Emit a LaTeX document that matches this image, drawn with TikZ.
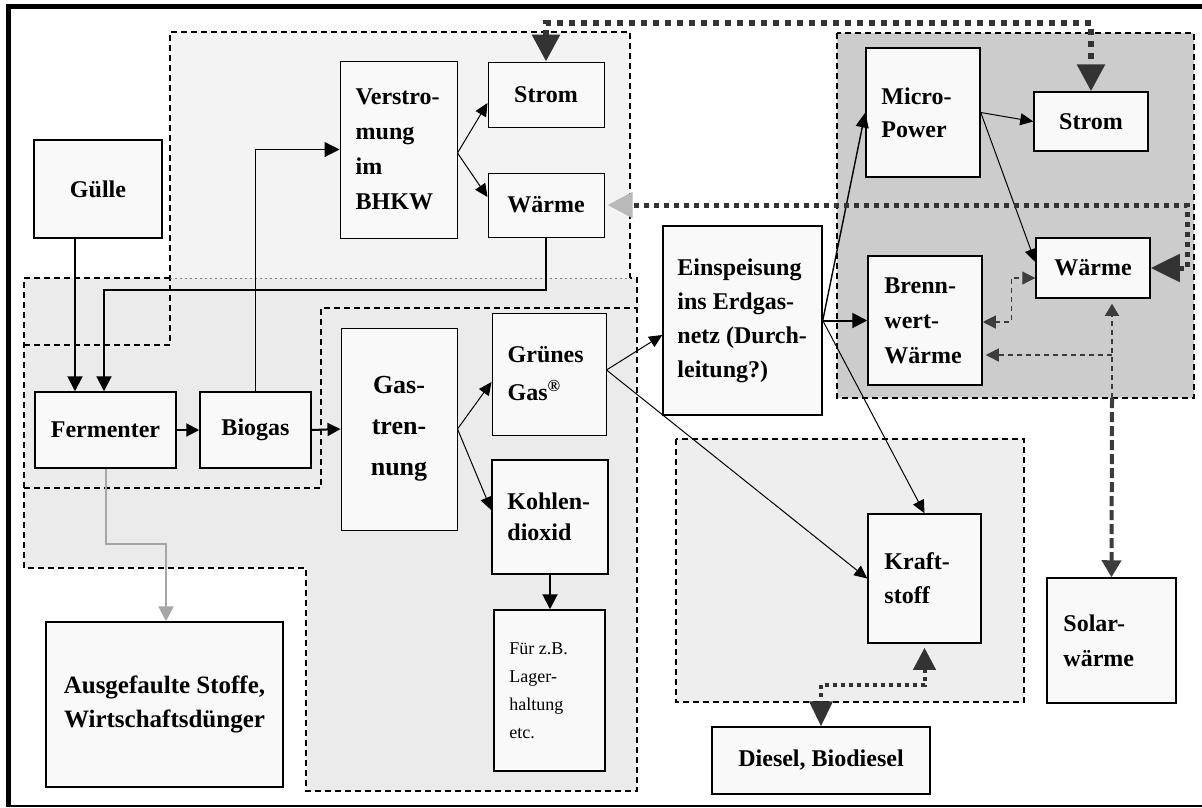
\documentclass[tikz,border=0pt]{standalone}
\usepackage{fontspec}
\setmainfont{Liberation Serif}
\usetikzlibrary{arrows.meta,calc}
\definecolor{boxfill}{HTML}{F9F9F9}
\definecolor{regA}{HTML}{F3F3F3}
\definecolor{regB}{HTML}{EBEBEB}
\definecolor{regE}{HTML}{CCCCCC}
\definecolor{regF}{HTML}{EEEEEE}
\definecolor{dk}{HTML}{333333}
\definecolor{dktwo}{HTML}{3C3C3C}
\begin{document}
\begin{tikzpicture}[x=1pt,y=-1pt,
  box/.style={draw=black,line width=1.5pt,fill=boxfill,inner sep=0pt,align=center,font=\fontsize{24}{34}\selectfont\bfseries},
  thinbox/.style={box,line width=1pt},
  txt/.style={inner sep=0pt,align=left,anchor=west,font=\fontsize{24}{34}\selectfont\bfseries},
  region/.style={draw=black,line width=1.4pt,dash pattern=on 6pt off 4pt},
  blk/.style={line width=2pt,-{Triangle[length=15pt,width=15pt]}},
  thn/.style={line width=1pt,-{Triangle[length=13pt,width=12pt]}},
  bigdot/.style={draw=dk,line width=6pt,dash pattern=on 6pt off 6pt},
  meddot/.style={draw=dk,line width=4pt,dash pattern=on 4pt off 4pt},
  graydash/.style={draw=dktwo,line width=1.2pt,dash pattern=on 5pt off 4pt},
]
\useasboundingbox (0,0) rectangle (1202,807);
% regions
\fill[regA] (170,32) rectangle (630,278);
\fill[regB] (24,278) -- (637,278) -- (637,791) -- (306,791) -- (306,568) -- (24,568) -- cycle;
\fill[regE] (837,33) rectangle (1194,398);
\fill[regF] (676,439) rectangle (1024,702);
\draw[region] (24,345) -- (170,345) -- (170,32) -- (630,32) -- (630,278);
\draw[region] (170,278) -- (24,278) -- (24,568) -- (306,568) -- (306,791) -- (637,791) -- (637,278) -- (630,278);
\draw[gray,line width=0.8pt,dash pattern=on 2pt off 3pt] (170,278) -- (630,278);
\draw[region] (24,488) -- (321,488) -- (321,308) -- (637,308);
\draw[region] (837,33) rectangle (1194,398);
\draw[region] (676,439) rectangle (1024,702);
% frame
\draw[line width=5pt] (8,807) -- (8,6.5) -- (1202,6.5);
\draw[line width=2pt] (8,805.5) -- (1202,805.5);
% boxes
\node[box,minimum width=128pt,minimum height=98pt] (guelle) at (98,189) {Gülle};
\node[thinbox,minimum width=117pt,minimum height=177pt] (verstr) at (398.5,149.5) {};
\node[thinbox,minimum width=116pt,minimum height=65pt] (strom1) at (546,94.5) {Strom};
\node[thinbox,minimum width=116pt,minimum height=64pt] (waerme1) at (546,205) {Wärme};
\node[box,minimum width=141pt,minimum height=76pt] (ferm) at (105.5,430) {Fermenter};
\node[box,minimum width=111pt,minimum height=76pt] (biogas) at (255.5,430) {Biogas};
\node[thinbox,minimum width=116pt,minimum height=202pt,font=\fontsize{26}{41}\selectfont\bfseries] (gast) at (399,429) {Gas-\\tren-\\nung};
\node[thinbox,minimum width=114pt,minimum height=122pt] (gruen) at (549,374) {};
\node[box,minimum width=116pt,minimum height=114pt] (kohlen) at (550,517) {};
\node[box,minimum width=111pt,minimum height=161pt] (fuer) at (549.5,690.5) {};
\node[box,minimum width=237pt,minimum height=165pt,font=\fontsize{25}{34}\selectfont\bfseries] (ausg) at (164.5,704.5) {Ausgefaulte Stoffe,\\Wirtschaftsdünger};
\node[box,minimum width=159pt,minimum height=189pt] (einsp) at (742.5,320.5) {};
\node[box,minimum width=114pt,minimum height=129pt] (micro) at (923,112.5) {};
\node[box,minimum width=114pt,minimum height=59pt] (strom2) at (1091,121.5) {Strom};
\node[box,minimum width=114pt,minimum height=60pt] (waerme2) at (1093,268) {Wärme};
\node[box,minimum width=114pt,minimum height=129pt] (brenn) at (925,320.5) {};
\node[box,minimum width=113pt,minimum height=129pt] (kraft) at (924.5,578.5) {};
\node[box,minimum width=218pt,minimum height=67pt] (diesel) at (821,760.5) {Diesel, Biodiesel};
\node[box,minimum width=129pt,minimum height=125pt] (solar) at (1111.5,640.5) {};
% left-aligned texts
\node[txt,font=\fontsize{24}{35}\selectfont\bfseries] (verstrT) at ([xshift=16pt]verstr.west) {Verstro-\\mung\\im\\BHKW};
\node[txt,font=\fontsize{24}{38}\selectfont\bfseries] (gruenT) at ([xshift=16pt]gruen.west) {Grünes\\Gas\textsuperscript{®}};
\node[txt,font=\fontsize{24}{31}\selectfont\bfseries] (kohlenT) at ([xshift=16pt]kohlen.west) {Kohlen-\\dioxid};
\node[txt,font=\fontsize{18}{28}\selectfont] (fuerT) at ([xshift=16pt]fuer.west) {Für z.B.\\Lager-\\haltung\\etc.};
\node[txt] (einspT) at ([xshift=15pt]einsp.west) {Einspeisung\\ins Erdgas-\\netz (Durch-\\leitung?)};
\node[txt,font=\fontsize{24}{33}\selectfont\bfseries] (microT) at ([xshift=16pt]micro.west) {Micro-\\Power};
\node[txt,font=\fontsize{24}{35}\selectfont\bfseries] (brennT) at ([xshift=17pt]brenn.west) {Brenn-\\wert-\\Wärme};
\node[txt] (kraftT) at ([xshift=17pt]kraft.west) {Kraft-\\stoff};
\node[txt,font=\fontsize{24}{35}\selectfont\bfseries] (solarT) at ([xshift=17pt]solar.west) {Solar-\\wärme};
% black connectors
\coordinate (jw) at (104,290);
\draw[blk] ([xshift=-23pt]guelle.south) -- ([xshift=-23pt]guelle.south |- ferm.north);
\draw[blk] (waerme1.south) |- (jw) -- (jw |- ferm.north);
\draw[line width=1pt,-{Triangle[length=15pt,width=15pt]}] (biogas.north) |- (verstr.west);
\draw[blk,-{Triangle[length=13pt,width=13pt]}] (ferm.east) -- (biogas.west);
\draw[blk,-{Triangle[length=13pt,width=13pt]}] (biogas.east) -- (gast.west);
\draw[thn] ([yshift=-3.5pt]verstr.east) -- ([yshift=-8.5pt]strom1.west);
\draw[thn] ([yshift=-3.5pt]verstr.east) -- ([yshift=8pt]waerme1.west);
\draw[thn] (gast.east) -- ([yshift=-8pt]gruen.west);
\draw[thn] (gast.east) -- ([yshift=7pt]kohlen.west);
\draw[blk] (kohlen.south) -- (kohlen.south |- fuer.north);
\draw[thn] ([yshift=4pt]gruen.east) -- ([yshift=-14.5pt]einsp.west);
\draw[thn] ([yshift=4pt]gruen.east) -- (kraft.west);
\draw[line width=1.4pt,-{Triangle[length=15pt,width=13pt]}] (einsp.east) -- (micro.west);
\draw[blk] (einsp.east) -- (brenn.west);
\draw[thn] (einsp.east) -- (kraft.north);
\draw[thn] (micro.east) -- (strom2.west);
\draw[thn] (micro.east) -- ([yshift=6pt]waerme2.west);
% grey connector to residues
\coordinate (fa) at (166,544);
\draw[gray!70,line width=2pt,-{Triangle[length=15pt,width=15pt]}] (ferm.south) |- (fa) -- (fa |- ausg.north);
% dotted heavy links
\coordinate (topy) at (0,23);
\draw[bigdot,{Triangle[length=27pt,width=27pt,color=dk]}-{Triangle[length=27pt,width=27pt,color=dk]}] (strom1.north) -- (strom1.north |- topy) -| (strom2.north);
\coordinate (rx) at (1187,0);
\draw[bigdot,line width=5pt,dash pattern=on 5pt off 5pt,{Triangle[length=29pt,width=27pt,color=dk]}-{Triangle[length=25pt,width=25pt,color=gray!55]}] (waerme2.east) -- (waerme2.east -| rx) |- ([xshift=3pt]waerme1.east);
\coordinate (kd) at (0,685);
\draw[meddot,{Triangle[length=22pt,width=22pt,color=dk]}-{Triangle[length=25pt,width=23pt,color=dk]},shorten <=4pt] (kraft.south) -- (kraft.south |- kd) -| (diesel.north);
% grey dashed links
\coordinate (sj) at (1112,398);
\coordinate (sb) at (1112,355);
\draw[graydash,-{Triangle[length=12pt,width=14pt,color=dktwo]},shorten >=5pt] (sj) -- (sj |- waerme2.south);
\draw[draw=dktwo,line width=4pt,dash pattern=on 10pt off 4pt,-{Triangle[length=17pt,width=19pt,color=dktwo]}] (sj) -- (solar.north);
\draw[graydash,-{Triangle[length=13pt,width=13pt,color=dktwo]},shorten >=3pt] (sb) -- (sb -| brenn.east);
\draw[graydash,{Triangle[length=13pt,width=13pt,color=dktwo]}-{Triangle[length=13pt,width=13pt,color=dktwo]}] ([yshift=-1.5pt]brenn.east) -| ([xshift=-24pt,yshift=-10pt]waerme2.west) -- ([yshift=-10pt]waerme2.west);
\end{tikzpicture}
\end{document}
